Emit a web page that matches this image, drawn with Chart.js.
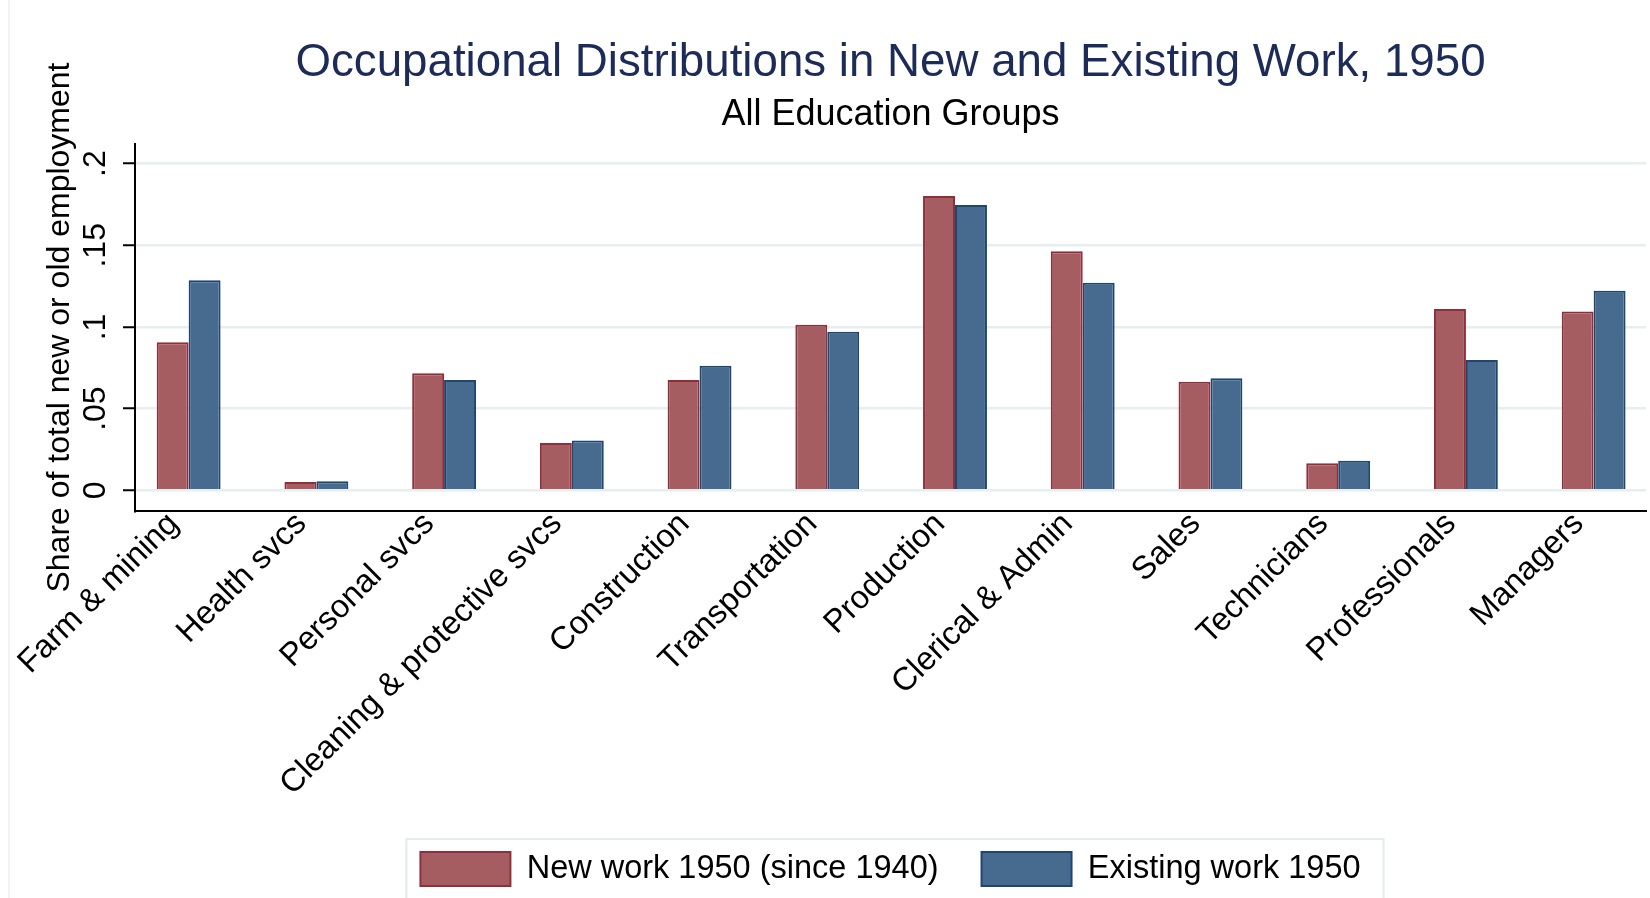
<!DOCTYPE html>
<html>
<head>
<meta charset="utf-8">
<script src="https://cdn.jsdelivr.net/npm/chart.js@4.4.0/dist/chart.umd.min.js"></script>
<style>
  body { margin: 0; background: #fff; }
  #wrap { position: relative; width: 1650px; height: 898px; }
  #edge { position: absolute; left: 8px; top: 0; width: 2px; height: 898px; background: #f1f4f6; }
</style>
</head>
<body>
<div id="wrap">
  <div id="edge"></div>
  <canvas id="myChart" width="1650" height="898"></canvas>
</div>
<script>
// categories and shares
var categories = ["Farm & mining", "Health svcs", "Personal svcs", "Cleaning & protective svcs",
    "Construction", "Transportation", "Production", "Clerical & Admin", "Sales",
    "Technicians", "Professionals", "Managers"];
var newWork = [0.0906, 0.0051, 0.0716, 0.0290, 0.0675, 0.1014, 0.1802, 0.1464, 0.0665, 0.0165, 0.1110, 0.1094];
var existingWork = [0.1286, 0.0055, 0.0675, 0.0304, 0.0763, 0.0971, 0.1746, 0.1271, 0.0686, 0.0181, 0.0798, 0.1222];
var yTicks = [0, 0.05, 0.1, 0.15, 0.2];
var yTickLabels = ["0", ".05", ".1", ".15", ".2"];

var font = "'Liberation Sans', Arial, sans-serif";

//draws the thin grey frame round the legend items
var legendBox = {
    id: "legendBox",
    afterDraw: function(chart) {
        var lg = chart.legend;
        if (!lg || !lg.legendHitBoxes.length) return;
        var boxes = lg.legendHitBoxes;
        var last = boxes[boxes.length - 1];
        var left = boxes[0].left - 14;
        var right = last.left + last.width + 23;
        var top = boxes[0].top - 13;
        var ctx = chart.ctx;
        ctx.save();
        ctx.strokeStyle = "#e4eaed";
        ctx.lineWidth = 2;
        ctx.strokeRect(left, top, right - left, chart.height - top + 20);
        ctx.restore();
    }
};

var ctx = document.getElementById("myChart");
var myChart = new Chart(ctx, {
    type: "bar",
    data: {
        datasets: [{
            label: "New work 1950 (since 1940)",
            data: newWork.map(function(v, i) { return {x: i, y: v}; }),
            backgroundColor: "#a65d62",
            borderColor: "#902f3b",
            borderWidth: 2
        }, {
            label: "Existing work 1950",
            data: existingWork.map(function(v, i) { return {x: i, y: v}; }),
            backgroundColor: "#476b8e",
            borderColor: "#1e4670",
            borderWidth: 2
        }]
    },
    options: {
        responsive: false,
        animation: false,
        categoryPercentage: 0.5,
        barPercentage: 1.0,
        layout: { padding: { left: 0, right: 4, top: 0, bottom: 2 } },
        plugins: {
            title: {
                display: true,
                fullSize: false,
                text: "Occupational Distributions in New and Existing Work, 1950",
                color: "#1c2b57",
                font: { family: font, size: 45.7, weight: "normal" },
                padding: { top: 36, bottom: 3 }
            },
            subtitle: {
                display: true,
                fullSize: false,
                text: "All Education Groups",
                color: "#000",
                font: { family: font, size: 36, weight: "normal" },
                padding: { top: 0, bottom: 7 }
            },
            legend: {
                position: "bottom",
                fullSize: false,
                labels: {
                    boxWidth: 90,
                    boxHeight: 34,
                    padding: 43,
                    color: "#000",
                    font: { family: font, size: 32.5 }
                }
            },
            tooltip: { enabled: false }
        },
        scales: {
            x: {
                type: "linear",
                offset: false,
                min: -0.42,
                max: 11.41,
                afterBuildTicks: function(scale) {
                    scale.ticks = categories.map(function(c, i) { return {value: i}; });
                },
                afterFit: function(scale) { scale.height = 298; },
                grid: { display: true, offset: false, drawOnChartArea: false, drawTicks: false },
                border: { display: true, color: "#000", width: 2 },
                ticks: {
                    autoSkip: false,
                    minRotation: 45,
                    maxRotation: 45,
                    padding: -6,
                    labelOffset: -15,
                    color: "#000",
                    font: { family: font, size: 32.5 },
                    callback: function(v) { return categories[v]; }
                }
            },
            y: {
                min: -0.0127,
                max: 0.212,
                afterBuildTicks: function(scale) {
                    scale.ticks = yTicks.map(function(v) { return {value: v}; });
                },
                afterFit: function(scale) { scale.width = 135; },
                grid: { color: "#e7eef1", lineWidth: 2.5, tickColor: "#000", tickLength: 12, tickWidth: 2 },
                border: { display: true, color: "#000", width: 2 },
                ticks: {
                    minRotation: 90,
                    maxRotation: 90,
                    crossAlign: "center",
                    padding: 5,
                    color: "#000",
                    font: { family: font, size: 32 },
                    callback: function(v) { return yTickLabels[yTicks.indexOf(v)]; }
                },
                title: {
                    display: true,
                    text: "Share of total new or old employment",
                    color: "#000",
                    font: { family: font, size: 32 },
                    padding: { top: 41, bottom: 0 }
                }
            }
        }
    },
    plugins: [legendBox]
});
</script>
</body>
</html>
